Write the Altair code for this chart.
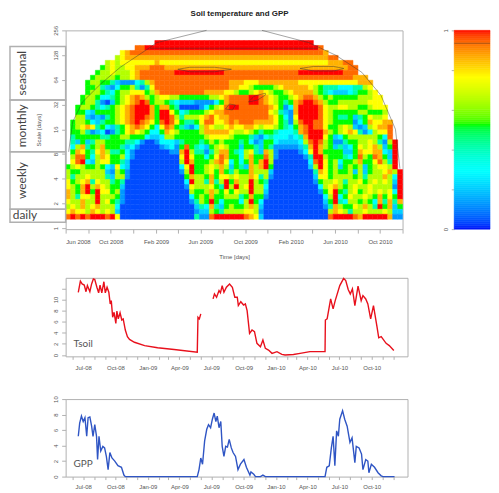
import altair as alt
import pandas as pd

# ---------- wavelet power (one letter per cell) ----------
# 0 deep blue .. 3 cyan .. 5 green .. 7 yellow .. 9 red-orange, R red, . outside the cone
POWER_ROWS = [
".......... ........RR RRRRRRRRRR RRRRRRRRRR RRRRRRRRRR .......... ........",
".......... ....99RRRR RRRRRRRRRR RRRRRRRRRR RRRRRRRRRR R9........ ........",
".......... .789999999 9999999999 9999999999 9999999999 998....... ........",
".......... 6788888888 8888888888 8888888888 8888888888 88899..... ........",
"........67 6777777787 7777777777 7777777777 7777777777 77788899.. ........",
".......567 6677888999 8888888888 8888888888 8888888888 888888899. ........",
"......5667 6667899999 99RRRRRRRR RR99999999 9999999RRR RRRRRR999. ........",
".....56666 5667899999 9999999999 9999999999 9999999999 9999999988 8.......",
"....566554 2111346899 9999999999 9998887778 8888888777 7777777778 88......",
"....556421 3556414799 9999999999 9998877655 5567888887 6544433344 67......",
"....566543 5667775689 9999999988 8877655678 7655678888 6543222345 567.....",
"...5665334 5678986567 7665555556 6789999RR9 8765567899 8656555556 6677....",
"...5664102 56789R9566 5432221111 3589999RR9 87654589RR 9865566666 6777....",
"..56654345 6789RRR858 8540000135 679RR99999 9875138RRR R976677665 56777...",
"..55325555 6789RRR85R R753455567 8899999999 9764218RRR R976555556 65556...",
"..66212145 6789RR985R R964666789 7889999999 9875317RRR R976544524 57667...",
".566532455 6789R98759 R975445799 7789899988 88754169RR 9976555513 587788..",
".567874532 4578987537 9854213687 6678778876 776543589R 9975567621 267889..",
".556412301 4578765335 8765555688 8887667654 554333489R RR86567874 136779..",
".455555445 5665553223 6655555567 7776555421 343332348R RR75235666 666539..",
".425246655 5544310013 3324555456 5655545312 5532222369 R965114556 676416R.",
".368456855 5423100001 2315954325 6765525542 5411111248 R865242357 678625R.",
".587547864 4531000000 0118R64414 6885436742 8610000137 R855552258 778832R.",
".699536875 5631000000 0007R75535 7985536855 9610000014 RR65554359 659852R.",
".79R326775 5420000000 0006R85556 8973535858 R600000003 9R75635568 557964R.",
"5676556532 7320000000 00037R5567 6862542868 R500000002 6R75625656 256776R.",
"6556666621 6510000000 00016R5567 5854655866 6200000000 4875655626 2566786R",
"6466766642 6610000000 0000586658 5776766874 6100000000 2775666656 4666863R",
"7567847664 5400000000 00003R6648 46R5866R65 4000000000 1566764667 5676762R",
"7658R68765 5200000000 0000176667 54R6R67R66 3000000000 0367865676 6766661R",
"8658R5R775 6100000000 0000065568 6575766R66 2000000000 0157R54675 6767673R",
"864776R666 5100000000 0000035658 5566645855 1000000000 0036R35766 7658575R",
"766866R675 4100000000 000001465R 5355536R53 0000000000 0025R43665 65384848",
"6768678666 3000000000 0000002438 4256556862 0000000000 0014865576 864R5825",
"7877687676 2000000000 0000001226 5466667761 0000000000 0006876466 76667622",
"9R9R9RRR9R 7000000000 0000004119 RRRRRR9872 0000000000 0009RRRR98 RRRRR811",
]
LEVELS = {"0": .04, "1": .13, "2": .21, "3": .29, "4": .42, "5": .525,
          "6": .65, "7": .765, "8": .86, "9": .94, "R": 1.0}

# cone of influence and significance contours: months after Jun 2008, scale in days
COI_L_M = [0.27, 0.62, 1.5, 3.1, 4.87, 7.5, 8.1, 12.56]
COI_L_S = [8.5, 19.6, 34.3, 56.6, 91, 158, 181, 256]
COI_R_M = [17.5, 21.7, 24.1, 26.4, 28.1, 29.4, 29.8]
COI_R_S = [256, 181, 127, 79, 41.6, 16, 5.3]
BAND_M = [7.5, 22.5]
BAND_S = [155, 155]
ELL1_M = [10.0, 11.06, 13.27, 14.78, 13.27, 11.06, 10.0]
ELL1_S = [86, 90.9, 90.9, 86, 80.2, 80.2, 86]
ELL2_M = [20.9, 22.1, 23.9, 24.8, 23.9, 22.1, 20.9]
ELL2_S = [88, 93, 93, 88, 82, 82, 88]
ELL3_M = [16.3, 16.8, 17.8, 17.8, 17.1, 16.3]
ELL3_S = [34.3, 40.5, 44, 41.7, 36.3, 34.3]
ELL4_M = [14.25, 14.6, 15.13, 14.87, 14.25]
ELL4_S = [28.2, 32.5, 31.5, 27.5, 28.2]

# period bands drawn left of the wavelet panel
BAND_NAMES = ["seasonal", "monthly", "weekly", "daily"]
BAND_TOP = [163, 36.3, 8.5, 1.7]
BAND_BOTTOM = [36.3, 8.5, 1.7, 1.18]
BAND_MID = [77, 17.6, 3.8, 1.44]
BAND_ANGLE = [270, 270, 270, 0]

# ---------- time series: days after 17 Jun 2008 ----------
TSOIL_D1 = [0,6,11,17,22,26,33,38,43,47,53,58,62,67,73,77,82,87,91,94,98,102,107,110,114,119,124,128,134,140,146,160,189,226,273,339,341,345,349]
TSOIL_V1 = [11.3,13.3,12.8,12.6,11.4,12.5,11.4,12.8,13.7,13.6,12.2,11.2,12.6,11.2,13.2,11.2,12.2,11.3,9.2,9.8,6.8,7.7,5.7,7.9,6.5,7.6,6.3,6.5,4.5,3.3,2.8,2.3,1.7,1.3,1.0,0.5,6.8,6.5,7.4]
TSOIL_D2 = [384,388,394,401,405,410,415,422,431,439,446,453,456,463,471,476,481,488,495,502,509,519,526,533,542,552,566,580,589,613,632,660,679,703,704,709,719,726,732,745,756,762,769,775,781,788,797,806,811,819,825,833,841,851,856,863,877,886,899]
TSOIL_V2 = [10.1,11.0,10.4,11.6,11.2,12.5,11.3,12.2,12.8,12.2,10.4,10.4,8.9,9.6,9.0,9.2,8.0,3.9,4.5,4.2,2.1,1.5,2.7,1.2,0.9,0.3,0.6,0.1,0,0.1,0.3,0.6,0.6,0.6,6.3,6.5,10.1,8.3,9.8,12.5,13.8,13.4,11.8,11.0,11.9,8.9,12.4,9.8,10.7,10.1,9.2,6.5,8.9,5.1,3.1,3.3,2.1,1.7,0.8]
GPP_D = [0,4,9,14,19,24,28,33,38,42,47,52,55,59,64,70,75,80,85,90,96,104,113,123,130,134,339,344,349,354,360,366,371,377,382,387,392,396,401,406,410,415,420,425,430,436,441,448,455,462,472,479,489,492,500,505,519,526,533,703,708,715,721,726,731,736,741,745,753,759,766,774,780,788,792,800,807,811,819,825,828,835,844,854,863,868,901]
GPP_V = [5.2,6.9,7.8,7.1,7.6,5.2,7.6,7.7,6.5,5.2,6.7,5.2,2.2,5.2,3.3,3.9,3.7,2.6,0.9,3.1,2.4,2.0,1.4,1.2,0.2,0,0,0.9,2.4,1.6,4.6,6.1,6.7,6.3,7.4,8.2,7.1,7.8,6.3,7.1,3.9,2.6,3.9,3.8,4.8,3.7,3.1,2.6,0.9,1.6,2.2,1.2,0.2,0.6,0.3,0,0,0.2,0,0,1.2,1.4,3.7,5.2,1.4,5.9,5.2,7.4,8.5,7.4,6.5,4.4,5.0,1.8,3.9,3.7,2.9,0.9,2.2,2.0,0.5,1.6,1.2,0.5,0.1,0,0]

TITLE = "Soil temperature and GPP"
FONT = "Liberation Sans"
GRAY = "#b0b0b0"
TXT = "#555555"
STOPS = [0, .29, .525, .765, 1]
RAINBOW = ["#0000f0", "#00ffff", "#00ff00", "#ffff00", "#ff0000"]
color_scale = alt.Scale(domain=STOPS, range=RAINBOW)
BAR_W = 36

W_START = pd.Timestamp("2008-06-01")
W_END = pd.Timestamp("2010-12-01")
S_START = pd.Timestamp("2008-06-17")
N_COL, N_ROW = 68, len(POWER_ROWS)
span_days = (W_END - W_START).days


def scale_at(r):
    # period at the top edge of row r: 5 of the 24.9 parts of an octave per row
    return 2 ** ((189 - 5 * r) / 24.9)


def month_date(m):
    return (W_START + pd.Timedelta(days=m * 30.4)).isoformat()


cells = []
for r, row in enumerate(POWER_ROWS):
    row = row.replace(" ", "").ljust(N_COL, ".")[:N_COL]
    for c, ch in enumerate(row):
        if ch in LEVELS:
            cells.append({
                "t0": (W_START + pd.Timedelta(days=c * span_days / N_COL)).isoformat(),
                "t1": (W_START + pd.Timedelta(days=(c + 1) * span_days / N_COL)).isoformat(),
                "s0": scale_at(r), "s1": scale_at(r + 1), "power": LEVELS[ch]})
cells = pd.DataFrame(cells)

wx = alt.Scale(domain=[W_START.isoformat(), W_END.isoformat()])
wy = alt.Scale(type="log", base=2, domain=[0.973, 256], nice=False)
w_months = [alt.DateTime(year=2008 + (5 + k) // 12, month=(5 + k) % 12 + 1, date=1) for k in range(0, 31, 2)]
wx_axis = alt.Axis(values=w_months, grid=False, domain=False, tickColor=GRAY, tickSize=4,
                   labelExpr="month(datum.value)%4==1 ? timeFormat(datum.value,'%b %Y') : ''",
                   labelFont=FONT, labelFontSize=6, labelColor=TXT, labelOverlap=False,
                   labelPadding=5, titleFont=FONT, titleFontSize=6, titleColor=TXT,
                   titleFontWeight="normal", titlePadding=10, title="Time [days]")
wy_axis = alt.Axis(values=[1, 2, 4, 8, 16, 32, 64, 128, 256], grid=False, domain=False,
                   tickColor=GRAY, tickSize=4, labelAngle=270, labelFont=FONT, labelFontSize=6,
                   labelColor=TXT, labelPadding=3, labelOverlap=False, titleFont=FONT, titleFontSize=6,
                   titleColor=TXT, titleFontWeight="normal", titlePadding=11, title="Scale [days]")

heat = alt.Chart(cells).mark_rect(strokeWidth=0.5).encode(
    x=alt.X("t0:T", scale=wx, axis=wx_axis),
    x2="t1:T",
    y=alt.Y("s0:Q", scale=wy, axis=wy_axis),
    y2="s1:Q",
    color=alt.Color("power:Q", scale=color_scale, legend=None),
    stroke=alt.Color("power:Q", scale=color_scale, legend=None),
)

curves = []
for name, ms, ss in [("l", COI_L_M, COI_L_S), ("r", COI_R_M, COI_R_S), ("b", BAND_M, BAND_S),
                     ("e1", ELL1_M, ELL1_S), ("e2", ELL2_M, ELL2_S), ("e3", ELL3_M, ELL3_S), ("e4", ELL4_M, ELL4_S)]:
    for i, (m, s) in enumerate(zip(ms, ss)):
        curves.append({"curve": name, "i": i, "t": month_date(m), "s": s})
contours = alt.Chart(pd.DataFrame(curves)).mark_line(color="#333333", strokeWidth=0.6, opacity=0.75).encode(
    x=alt.X("t:T", scale=wx, axis=wx_axis), y=alt.Y("s:Q", scale=wy, axis=wy_axis), detail="curve:N", order="i:Q")

bands = pd.DataFrame({"name": BAND_NAMES, "top": BAND_TOP, "bottom": BAND_BOTTOM,
                      "mid": BAND_MID, "angle": BAND_ANGLE})
boxes = alt.Chart(bands).mark_rect(fillOpacity=0, stroke=GRAY, strokeWidth=1.5, clip=False).encode(
    x=alt.value(-56), x2=alt.value(0), y=alt.Y("top:Q", scale=wy, axis=wy_axis), y2="bottom:Q")
vtext = alt.Chart(bands[bands.angle > 0]).mark_text(font="Lato", fontSize=12, color="#444444", angle=270, clip=False).encode(
    x=alt.value(-44), y=alt.Y("mid:Q", scale=wy, axis=wy_axis), text="name:N")
htext = alt.Chart(bands[bands.angle == 0]).mark_text(font="Lato", fontSize=12, color="#444444", clip=False).encode(
    x=alt.value(-41), y=alt.Y("mid:Q", scale=wy, axis=wy_axis), text="name:N")
title_mark = alt.Chart(pd.DataFrame({"s": [TITLE]})).mark_text(
    font=FONT, fontSize=8, fontWeight="bold", color="#222222", clip=False).encode(
    x=alt.value(175), y=alt.value(-16), text="s:N")

wavelet = alt.layer(heat, contours, boxes, vtext, htext, title_mark).properties(width=339, height=200)

# ---------- colour bar ----------
bar_vals = [i / 100 for i in range(100)]
bar = pd.DataFrame({"v0": bar_vals, "v1": [v + 0.01 for v in bar_vals], "c": [v + 0.005 for v in bar_vals]})
by = alt.Scale(domain=[0, 1], nice=False)
by_axis = alt.Axis(values=[0, .2, .4, .6, .8, 1], grid=False, domain=False, tickColor=GRAY, tickSize=3,
                   labelAngle=270, labelFont=FONT, labelFontSize=6, labelColor=TXT, labelPadding=3,
                   labelOverlap=False, title=None,
                   labelExpr="datum.value==0 ? '0' : datum.value==1 ? '1' : ''")
colorbar = alt.Chart(bar).mark_rect(x=0, x2=BAR_W, strokeWidth=0.6).encode(
    y=alt.Y("v0:Q", scale=by, axis=by_axis),
    y2="v1:Q",
    color=alt.Color("c:Q", scale=color_scale, legend=None),
    stroke=alt.Color("c:Q", scale=color_scale, legend=None),
)
bar_mark = alt.Chart(pd.DataFrame({"v": [0.935]})).mark_rule(color="#333333", strokeWidth=0.6, opacity=0.7).encode(
    y=alt.Y("v:Q", scale=by, axis=by_axis), x=alt.value(0), x2=alt.value(BAR_W))
colorbar = alt.layer(colorbar, bar_mark).properties(width=BAR_W, height=200, view=alt.ViewConfig(stroke=None))

# ---------- line panels ----------
lx = alt.Scale(domain=["2008-05-12", "2011-01-11"])
l_months = [alt.DateTime(year=2008 + (5 + k) // 12, month=(5 + k) % 12 + 1, date=1) for k in range(0, 31)]
ty = alt.Scale(domain=[-0.24, 13.9], nice=False)
gy = alt.Scale(domain=[0, 10], nice=False)


def x_axis(pad, ext, tick=3):
    return alt.Axis(values=l_months, grid=False, domain=False, tickColor=GRAY, tickSize=tick, title=None,
                    labelExpr="month(datum.value)%3==0 ? timeFormat(datum.value,'%b-%y') : ''",
                    labelFont=FONT, labelFontSize=6, labelColor=TXT, labelOverlap=False, labelPadding=pad,
                    minExtent=ext)


def y_axis(vals, expr=None):
    kw = {"labelExpr": expr} if expr else {}
    return alt.Axis(values=vals, grid=False, domain=False, tickColor=GRAY, tickSize=4, title=None, labelAngle=270,
                    labelFont=FONT, labelFontSize=6, labelColor=TXT, labelPadding=3, labelOverlap=False, **kw)


def to_dates(days):
    return [(S_START + pd.Timedelta(days=d)).isoformat() for d in days]


ts = pd.DataFrame({"t": to_dates(TSOIL_D1 + TSOIL_D2), "v": TSOIL_V1 + TSOIL_V2,
                   "seg": ["a"] * len(TSOIL_D1) + ["b"] * len(TSOIL_D2)})
tx_axis = x_axis(5, 24)
ty_axis = y_axis([0, 2, 4, 6, 8, 10, 12], "datum.value==12 ? '' : datum.label")
t_line = alt.Chart(ts).mark_line(color="#e8101c", strokeWidth=1.4).encode(
    x=alt.X("t:T", scale=lx, axis=tx_axis),
    y=alt.Y("v:Q", scale=ty, axis=ty_axis),
    detail="seg:N")
t_lab = alt.Chart(pd.DataFrame({"t": ["2008-07-01"], "v": [1.9], "s": ["Tsoil"]})).mark_text(
    font="Lato", fontSize=10, color="#555555").encode(
    x=alt.X("t:T", scale=lx, axis=tx_axis), y=alt.Y("v:Q", scale=ty, axis=ty_axis), text="s:N")
tsoil = alt.layer(t_line, t_lab).properties(width=344, height=79)

gp = pd.DataFrame({"t": to_dates(GPP_D), "v": GPP_V})
gx_axis = x_axis(4, 8, 3)
gy_axis = y_axis([0, 2, 4, 6, 8, 10])
g_line = alt.Chart(gp).mark_line(color="#2f55c4", strokeWidth=1.4).encode(
    x=alt.X("t:T", scale=lx, axis=gx_axis),
    y=alt.Y("v:Q", scale=gy, axis=gy_axis))
g_lab = alt.Chart(pd.DataFrame({"t": ["2008-07-01"], "v": [1.6], "s": ["GPP"]})).mark_text(
    font="Lato", fontSize=10, color="#555555").encode(
    x=alt.X("t:T", scale=lx, axis=gx_axis), y=alt.Y("v:Q", scale=gy, axis=gy_axis), text="s:N")
gpp = alt.layer(g_line, g_lab).properties(width=344, height=78)

top = alt.hconcat(wavelet, colorbar, spacing=39)
chart = alt.vconcat(top, tsoil, gpp, spacing=14).properties(padding=0).configure_view(stroke=GRAY, strokeWidth=1)

chart.save("out.html", embed_options={"renderer": "svg", "actions": False})
